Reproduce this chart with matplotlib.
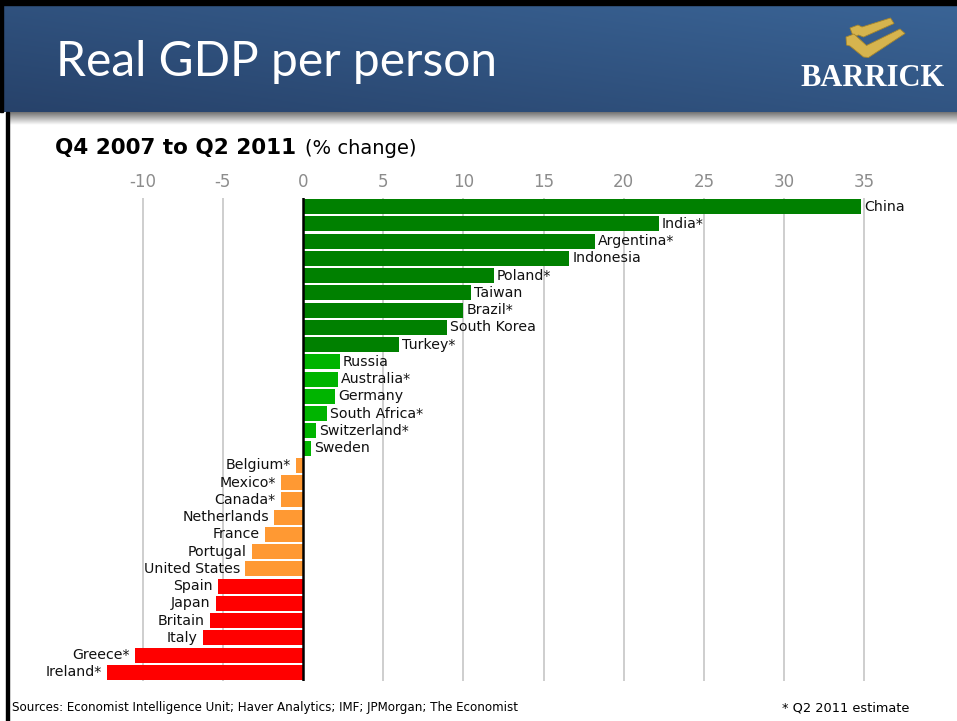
import numpy as np
import matplotlib
matplotlib.use('Agg')
import matplotlib.pyplot as plt
from matplotlib.patches import Rectangle, Polygon

# data (% change, Q4 2007 to Q2 2011)
countries = ['China', 'India*', 'Argentina*', 'Indonesia', 'Poland*', 'Taiwan', 'Brazil*',
             'South Korea', 'Turkey*', 'Russia', 'Australia*', 'Germany', 'South Africa*',
             'Switzerland*', 'Sweden', 'Belgium*', 'Mexico*', 'Canada*', 'Netherlands',
             'France', 'Portugal', 'United States', 'Spain', 'Japan', 'Britain', 'Italy',
             'Greece*', 'Ireland*']
values = [34.8, 22.2, 18.2, 16.6, 11.9, 10.5, 10.0, 9.0, 6.0, 2.3, 2.2, 2.0, 1.5, 0.8, 0.5,
          -0.45, -1.35, -1.4, -1.8, -2.4, -3.2, -3.6, -5.3, -5.45, -5.8, -6.25, -10.5, -12.2]
groups = ['high', 'high', 'high', 'high', 'high', 'high', 'high', 'high', 'high',
          'mid', 'mid', 'mid', 'mid', 'mid', 'mid',
          'low', 'low', 'low', 'low', 'low', 'low', 'low',
          'neg', 'neg', 'neg', 'neg', 'neg', 'neg']
ticks = [-10, -5, 0, 5, 10, 15, 20, 25, 30, 35]

group_colors = {'high': '#008000', 'mid': '#00B400', 'low': '#FF9933', 'neg': '#FF0000'}

W, H = 957, 721
fig = plt.figure(figsize=(W / 100, H / 100), dpi=100)
fig.patch.set_facecolor('white')


def fx(px):
    return px / W


def fy(py):
    return 1 - py / H


# background / slide decoration in pixel coords
bg = fig.add_axes([0, 0, 1, 1], zorder=0)
bg.set_xlim(0, W)
bg.set_ylim(H, 0)
bg.axis('off')

# header gradient
gx = np.linspace(0, 1, 200)
gy = np.linspace(0, 1, 60)
GX, GY = np.meshgrid(gx, gy)
t = 0.55 * GX + 0.45 * (1 - GY)
c0 = np.array([0x27, 0x42, 0x6A]) / 255
c1 = np.array([0x3A, 0x64, 0x96]) / 255
grad = c0[None, None, :] * (1 - t[..., None]) + c1[None, None, :] * t[..., None]
bg.imshow(grad, extent=(3, W, 112, 5), aspect='auto', interpolation='bilinear', zorder=1)
bg.add_patch(Rectangle((0, 0), W, 5, color='black', zorder=2))
bg.add_patch(Rectangle((0, 0), 3, 112, color='black', zorder=2))
bg.add_patch(Rectangle((6, 112), 3, H - 112, color='black', zorder=2))

# shadow under header
sh = np.linspace(0, 1, 30)[:, None]
shade = np.dstack([0.45 + 0.55 * sh] * 3) * np.ones((1, 10, 1))
bg.imshow(shade, extent=(9, W, 125, 112), aspect='auto', interpolation='bilinear', zorder=1)

# logo
gold = '#D6B44E'
edge = '#A8872C'
bg.add_patch(Polygon([(850, 28), (858, 25), (862, 27), (890.5, 18), (894, 23.5),
                      (863.5, 37), (858.5, 35), (853.5, 37)], closed=True,
                     facecolor=gold, edgecolor=edge, lw=0.6, zorder=3))
bg.add_patch(Polygon([(846, 37), (854, 34), (866.5, 45.5), (900, 29), (905, 33.5),
                      (868.5, 57.5), (863.5, 57), (850, 46), (846.5, 45)], closed=True,
                     facecolor=gold, edgecolor=edge, lw=0.6, zorder=3))
bg.text(873, 78, 'BARRICK', color='white', fontsize=22, fontweight='bold',
        family='Liberation Serif', ha='center', va='center', zorder=3)

bg.text(56, 62, 'Real GDP per person', color='white', fontsize=34.5, family='Lato',
        ha='left', va='center', zorder=3)

# subtitle
t1 = bg.text(55, 148, 'Q4 2007 to Q2 2011', fontsize=15.5, fontweight='bold',
             ha='left', va='center', color='black')
fig.canvas.draw()
bb = t1.get_window_extent()
bg.text(bb.x1 + 9, 148, '(% change)', fontsize=14, ha='left', va='center', color='black')

# footer
bg.text(12, 708, 'Sources: Economist Intelligence Unit; Haver Analytics; IMF; JPMorgan; The Economist',
        fontsize=8.6, ha='left', va='center', color='black')
bg.text(782, 708, '* Q2 2011 estimate', fontsize=9.3, ha='left', va='center', color='black')

# main chart
left_px, right_px, top_px, bot_px = 30, 900, 198, 681
ax = fig.add_axes([fx(left_px), fy(bot_px), (right_px - left_px) / W, (bot_px - top_px) / H],
                  zorder=2)
ax.patch.set_alpha(0)
zero_px, per_unit = 303, 16.04
ax.set_xlim((left_px - zero_px) / per_unit, (right_px - zero_px) / per_unit)

n = len(countries)
ypos = np.arange(n)
colors = [group_colors[g] for g in groups]
ax.barh(ypos, values, height=0.87, color=colors, zorder=2)
ax.set_ylim(n - 1 + 0.5, -0.5)

for y, v, name in zip(ypos, values, countries):
    if v >= 0:
        ax.annotate(name, (v, y), xytext=(3, 0), textcoords='offset pixels',
                    ha='left', va='center', fontsize=10.2, color='#111111')
    else:
        ax.annotate(name, (v, y), xytext=(-5, 0), textcoords='offset pixels',
                    ha='right', va='center', fontsize=10.2, color='#111111')

ax.set_xticks(ticks)
ax.set_xticklabels([str(k) for k in ticks])
ax.xaxis.tick_top()
ax.tick_params(axis='x', length=0, pad=5, labelsize=12, labelcolor='#8C8C8C')
ax.set_yticks([])
for s in ax.spines.values():
    s.set_visible(False)
for k in ticks:
    if k != 0:
        ax.axvline(k, color='#CACACA', lw=1.3, zorder=1)
ax.axvline(0, color='black', lw=1.8, zorder=3)

fig.savefig('out.png', dpi=100)
